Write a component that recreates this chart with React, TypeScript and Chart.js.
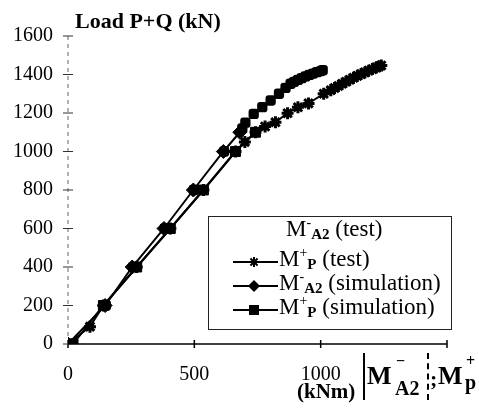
import React, { useEffect, useRef } from 'react';
import { Chart, registerables } from 'chart.js';

Chart.register(...registerables);

const FONT = '"Liberation Serif", "Times New Roman", serif';

// Axis ticks
const xTickValues = [0, 500, 1000, 1500];
const xTickLabels = ['0', '500', '1000', ''];
const yTickValues = [0, 200, 400, 600, 800, 1000, 1200, 1400, 1600];

// M-A2 (test): markers only
const mA2TestM = [0, 150, 258, 383, 498, 618, 690, 702, 735, 769, 802, 835, 861, 881, 895, 910, 925, 940, 955, 970, 985, 1000, 1008];
const mA2TestP = [0, 200, 400, 600, 800, 1000, 1120, 1150, 1195, 1230, 1265, 1300, 1330, 1352, 1362, 1372, 1381, 1390, 1398, 1405, 1412, 1418, 1423];

// M+p (test): line + asterisks
const mPTestM = [0, 87, 140, 272, 405, 536, 663, 700, 742, 780, 821, 869, 910, 952, 1012, 1040, 1055, 1070, 1085, 1100, 1115, 1130, 1145, 1160, 1175, 1190, 1205, 1220, 1232, 1240];
const mPTestP = [0, 90, 200, 400, 600, 800, 1000, 1050, 1100, 1130, 1152, 1199, 1230, 1250, 1300, 1318, 1330, 1340, 1352, 1362, 1373, 1383, 1393, 1402, 1411, 1420, 1428, 1437, 1443, 1447];

// M-A2 (simulation): line + diamonds
const mA2SimM = [0, 147, 254, 380, 496, 615, 680];
const mA2SimP = [0, 200, 400, 600, 800, 1000, 1100];

// M+p (simulation): line + squares
const mPSimM = [0, 20, 140, 272, 405, 536, 663, 742];
const mPSimP = [0, 0, 200, 400, 600, 800, 1000, 1100];

const pts = (xs: number[], ys: number[]) => xs.map((v, i) => ({ x: v, y: ys[i] }));

const LEG = { left: 208, top: 216, right: 451, bottom: 329 };
const legendSamples = [
  { y: 262, style: 'star' },
  { y: 286, style: 'diamond' },
  { y: 310, style: 'square' },
];

const decorPlugin = {
  id: 'decor',
  beforeDatasetsDraw(chart: any) {
    const { ctx, chartArea: a, scales } = chart;
    const x = scales.x;
    const y = scales.y;
    ctx.save();
    // x axis
    ctx.strokeStyle = '#000';
    ctx.lineWidth = 1.5;
    ctx.beginPath();
    ctx.moveTo(a.left, a.bottom);
    ctx.lineTo(a.right, a.bottom);
    xTickValues.forEach((v) => {
      const px = x.getPixelForValue(v);
      ctx.moveTo(px, a.bottom - 4);
      ctx.lineTo(px, a.bottom + 4);
    });
    ctx.stroke();
    // y axis (faint, broken as in scan)
    ctx.strokeStyle = '#666';
    ctx.lineWidth = 1;
    ctx.setLineDash([4, 4]);
    ctx.beginPath();
    ctx.moveTo(a.left, a.bottom);
    ctx.lineTo(a.left, a.top);
    ctx.stroke();
    ctx.setLineDash([]);
    ctx.strokeStyle = '#333';
    ctx.beginPath();
    yTickValues.forEach((v) => {
      const py = y.getPixelForValue(v);
      ctx.moveTo(a.left - 5, py);
      ctx.lineTo(a.left + 5, py);
    });
    ctx.stroke();
    // legend box
    ctx.fillStyle = '#fff';
    ctx.fillRect(LEG.left, LEG.top, LEG.right - LEG.left, LEG.bottom - LEG.top);
    ctx.strokeStyle = '#222';
    ctx.lineWidth = 1;
    ctx.strokeRect(LEG.left + 0.5, LEG.top + 0.5, LEG.right - LEG.left, LEG.bottom - LEG.top);
    ctx.restore();
  },
  afterDraw(chart: any) {
    const { ctx } = chart;
    ctx.save();
    ctx.strokeStyle = '#000';
    ctx.fillStyle = '#000';
    legendSamples.forEach((s) => {
      ctx.lineWidth = 2;
      ctx.beginPath();
      ctx.moveTo(233, s.y);
      ctx.lineTo(278, s.y);
      ctx.stroke();
      const cx = 254;
      if (s.style === 'star') {
        ctx.beginPath();
        const r = 5;
        for (let k = 0; k < 4; k++) {
          const ang = (k * Math.PI) / 4;
          ctx.moveTo(cx - r * Math.cos(ang), s.y - r * Math.sin(ang));
          ctx.lineTo(cx + r * Math.cos(ang), s.y + r * Math.sin(ang));
        }
        ctx.stroke();
      } else if (s.style === 'diamond') {
        ctx.beginPath();
        ctx.moveTo(cx, s.y - 6);
        ctx.lineTo(cx + 6, s.y);
        ctx.lineTo(cx, s.y + 6);
        ctx.lineTo(cx - 6, s.y);
        ctx.closePath();
        ctx.fill();
      } else {
        ctx.fillRect(cx - 5, s.y - 5, 10, 10);
      }
    });
    ctx.restore();
  },
};

const Sym = ({ sup, sub, rest }: { sup: string; sub: string; rest: string }) => (
  <span>
    M
    <span style={{ fontSize: 14, position: 'relative', top: -9 }}>{sup}</span>
    <span style={{ fontSize: 15, fontWeight: 700, position: 'relative', top: 3 }}>{sub}</span>
    {rest}
  </span>
);

const abs = (left: number, top: number, extra: any = {}) => ({
  position: 'absolute' as const,
  left,
  top,
  lineHeight: 1,
  whiteSpace: 'nowrap' as const,
  ...extra,
});

export default function App() {
  const ref = useRef<HTMLCanvasElement>(null);
  useEffect(() => {
    if (!ref.current) return;
    const tickFont = { family: FONT, size: 20 };
    const chart = new Chart(ref.current, {
      type: 'line',
      data: {
        datasets: [
          {
            label: 'M-A2 (test)',
            data: pts(mA2TestM, mA2TestP),
            showLine: false,
            pointStyle: 'rectRounded',
            pointRadius: 6,
            backgroundColor: '#000',
            borderColor: '#000',
            pointBorderWidth: 0,
          },
          {
            label: 'M+p (test)',
            data: pts(mPTestM, mPTestP),
            borderColor: '#000',
            backgroundColor: '#000',
            borderWidth: 2,
            pointStyle: 'star',
            pointRadius: 6,
            pointBorderWidth: 3,
          },
          {
            label: 'M-A2 (simulation)',
            data: pts(mA2SimM, mA2SimP),
            borderColor: '#000',
            backgroundColor: '#000',
            borderWidth: 2,
            pointStyle: 'rectRot',
            pointRadius: 7,
            pointBorderWidth: 1,
          },
          {
            label: 'M+p (simulation)',
            data: pts(mPSimM, mPSimP),
            borderColor: '#000',
            backgroundColor: '#000',
            borderWidth: 2,
            pointStyle: 'rect',
            pointRadius: 7,
            pointBorderWidth: 1,
          },
        ],
      },
      options: {
        responsive: false,
        animation: false,
        devicePixelRatio: 1,
        layout: { padding: { top: 36, right: 32, left: 0, bottom: 0 } },
        plugins: { legend: { display: false }, tooltip: { enabled: false } },
        elements: { line: { tension: 0 } },
        scales: {
          x: {
            type: 'linear',
            min: 0,
            max: 1500,
            afterBuildTicks: (s: any) => {
              s.ticks = xTickValues.map((v) => ({ value: v }));
            },
            afterFit: (s: any) => {
              s.height = 66;
            },
            ticks: {
              font: tickFont,
              color: '#000',
              padding: 19,
              maxRotation: 0,
              autoSkip: false,
              callback: (v: any) => xTickLabels[xTickValues.indexOf(Number(v))] ?? '',
            },
            grid: { display: false, drawTicks: false },
            border: { display: false },
          },
          y: {
            type: 'linear',
            min: 0,
            max: 1600,
            afterBuildTicks: (s: any) => {
              s.ticks = yTickValues.map((v) => ({ value: v }));
            },
            afterFit: (s: any) => {
              s.width = 68;
            },
            ticks: {
              font: tickFont,
              color: '#000',
              padding: 15,
              autoSkip: false,
              callback: (v: any) => String(v),
            },
            grid: { display: false, drawTicks: false },
            border: { display: false },
          },
        },
      },
      plugins: [decorPlugin],
    } as any);
    return () => chart.destroy();
  }, []);

  return (
    <div
      style={{
        position: 'absolute',
        left: 0,
        top: 0,
        width: 479,
        height: 410,
        background: '#fff',
        fontFamily: FONT,
        color: '#000',
        overflow: 'hidden',
      }}
    >
      <canvas ref={ref} width={479} height={410} style={{ width: 479, height: 410, display: 'block' }} />
      <div style={{ position: 'absolute', left: 0, top: 0, width: 479, height: 410, pointerEvents: 'none' }}>
        <div style={abs(75, 10, { fontSize: 22, fontWeight: 700 })}>Load P+Q (kN)</div>

        <div style={abs(286, 217, { fontSize: 23 })}>
          <Sym sup="-" sub="A2" rest=" (test)" />
        </div>
        <div style={abs(279, 247, { fontSize: 23 })}>
          <Sym sup="+" sub="P" rest=" (test)" />
        </div>
        <div style={abs(279, 271, { fontSize: 23 })}>
          <Sym sup="-" sub="A2" rest=" (simulation)" />
        </div>
        <div style={abs(279, 295, { fontSize: 23 })}>
          <Sym sup="+" sub="P" rest=" (simulation)" />
        </div>

        <div style={abs(297, 381, { fontSize: 21, fontWeight: 700 })}>(kNm)</div>
        <div style={{ position: 'absolute', left: 363, top: 353, width: 2, height: 47, background: '#000' }} />
        <div style={abs(367, 363, { fontSize: 26, fontWeight: 700 })}>M</div>
        <div style={abs(396, 353, { fontSize: 16, fontWeight: 700 })}>−</div>
        <div style={abs(395, 378, { fontSize: 20, fontWeight: 700 })}>A2</div>
        <div style={{ position: 'absolute', left: 427, top: 353, width: 0, height: 47, borderLeft: '2px dashed #000' }} />
        <div style={abs(430, 368, { fontSize: 22, fontWeight: 700 })}>;</div>
        <div style={abs(438, 363, { fontSize: 26, fontWeight: 700 })}>M</div>
        <div style={abs(466, 353, { fontSize: 16, fontWeight: 700 })}>+</div>
        <div style={abs(465, 372, { fontSize: 20, fontWeight: 700 })}>p</div>
      </div>
    </div>
  );
}
